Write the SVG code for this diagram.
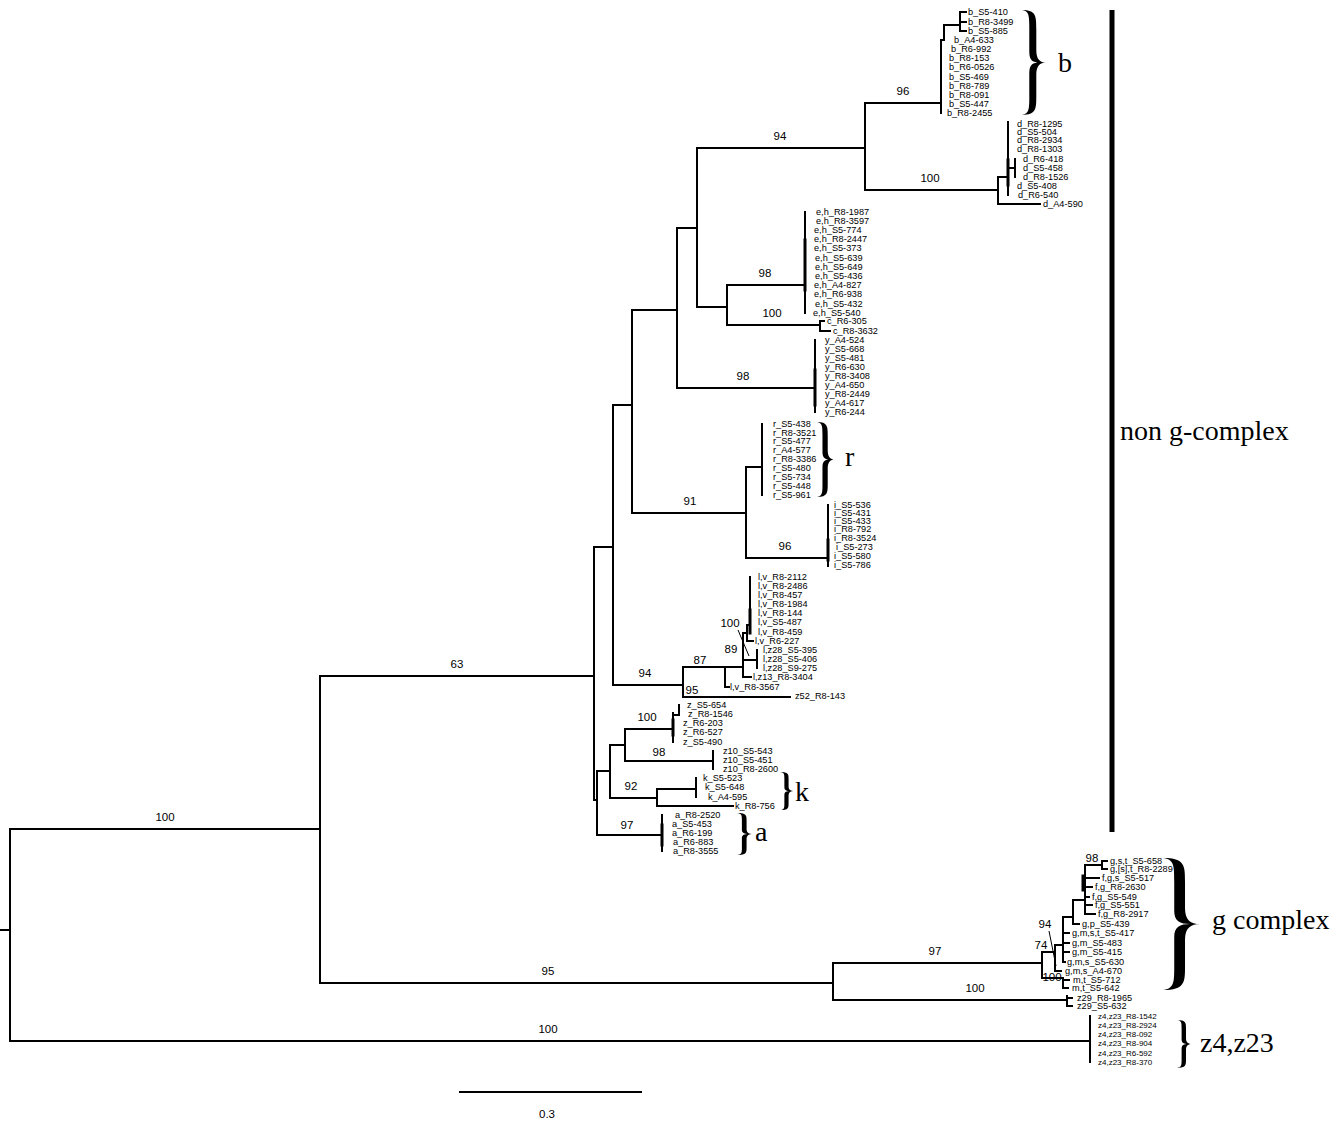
<svg xmlns="http://www.w3.org/2000/svg" width="1340" height="1121" viewBox="0 0 1340 1121">
<style>
.br{fill:none;stroke:#000;stroke-width:2;stroke-linecap:square}
.thin{fill:none;stroke:#000;stroke-width:1}
.lf{font-family:"Liberation Sans",Arial,sans-serif;font-size:9.2px;fill:#000}
.lf8{font-family:"Liberation Sans",Arial,sans-serif;font-size:8px;fill:#000}
.bs{font-family:"Liberation Sans",Arial,sans-serif;font-size:11.5px;fill:#000;text-anchor:middle}
.big{font-family:"Liberation Serif","Times New Roman",serif;font-size:28px;fill:#000}
</style>
<defs>
<path id="brace" d="M0,0 C14.3,0 14.3,6 14.3,18 L14.3,38 C14.3,47 18,50 24,50 C18,50 14.3,53 14.3,62 L14.3,82 C14.3,94 14.3,100 0,100 C7.3,99 7.3,94 7.3,82 L7.3,60 C7.3,52 10.8,50 17.8,50 C10.8,50 7.3,48 7.3,40 L7.3,18 C7.3,6 7.3,1 0,0 Z" fill="#000"/>
</defs>
<rect width="1340" height="1121" fill="#fff"/>

<g id="connectors">
<path class="br" d="M0,930 H10 M10,829 V1041 M10,829 H320 M10,1041 H1090 M320,676 V983 M320,676 H594 M320,983 H833
M833,963 V1000 M833,963 H1042 M833,1000 H1067 M1067,996 V1006 M1067,998 H1072 M1067,1006 H1072
M1042,952 V978 M1042,952 H1055 M1042,978 H1063 M1063,978 V988 M1063,980 H1069 M1063,988 H1068
M1055,945 V971 M1055,971 H1061 M1055,945 H1063 M1063,917 V962 M1063,933 H1069 M1063,943 H1069 M1063,952 H1069 M1063,962 H1065
M1063,917 H1073 M1073,900 V924 M1073,924 H1079 M1073,900 H1085 M1085,865 V914
M1085,878 H1099 M1085,887 H1092 M1085,897 H1089 M1085,905 H1092 M1085,914 H1095
M1085,865 H1102 M1102,861 V869 M1102,861 H1107 M1102,869 H1107
M1090,1016 V1062
M594,547 V800 M594,800 H597 M597,771 V835 M597,771 H610 M610,745 V798 M610,745 H625 M625,729 V761
M625,729 H673 M673,713 V742 M673,715 H679 M679,705 V715
M625,761 H713 M713,751 V769
M610,798 H657 M657,789 V806 M657,789 H696 M696,778 V797 M657,806 H733
M597,835 H662 M662,815 V851
M594,547 H613 M613,405 V685 M613,685 H683 M683,667 V697 M683,667 H743
M725,667 V687 M725,687 H729 M683,697 H790
M743,633 V677 M743,677 H751 M743,660 H757 M757,650 V668 M743,633 H747 M747,625 V641 M747,641 H753 M747,625 H750 M750,577 V633
M613,405 H632 M632,310 V513 M632,513 H746 M746,467 V558 M746,467 H762 M762,424 V495 M746,558 H828 M828,505 V566
M632,310 H677 M677,228 V388 M677,388 H815 M815,340 V412 M677,228 H697 M697,148 V307 M697,307 H727
M727,285 V325 M727,285 H805 M805,212 V313 M727,325 H820 M820,321 V331 M820,321 H824 M820,331 H830
M697,148 H865 M865,103 V190 M865,103 H938 M865,190 H998
M941,40 V113 M938,103 H941 M941,40 H944 M944,25 V40 M944,25 H960 M960,12 V31 M960,12 H966 M960,22 H966 M960,31 H966
M998,177 V204 M998,177 H1008 M1008,122 V195 M1008,168 H1015 M1015,159 V177 M998,204 H1040"/>
<path class="br" style="stroke-width:3" d="M1083,876 V890 M1008,160 V185 M805,240 V290 M815,370 V405 M750,610 V633 M673,720 V735 M662,825 V845 M828,540 V560"/>
<path class="thin" d="M738,630 L749,656 M1049,931 L1056,966"/>
<path d="M1112,10 V832" stroke="#000" stroke-width="5" fill="none"/>
<path d="M459,1092 H642" stroke="#000" stroke-width="2" fill="none"/>
</g>

<g id="support">
<text class="bs" x="165" y="821">100</text>
<text class="bs" x="548" y="1033">100</text>
<text class="bs" x="457" y="668">63</text>
<text class="bs" x="548" y="975">95</text>
<text class="bs" x="935" y="955">97</text>
<text class="bs" x="975" y="992">100</text>
<text class="bs" x="780" y="140">94</text>
<text class="bs" x="903" y="95">96</text>
<text class="bs" x="930" y="182">100</text>
<text class="bs" x="765" y="277">98</text>
<text class="bs" x="772" y="317">100</text>
<text class="bs" x="743" y="380">98</text>
<text class="bs" x="690" y="505">91</text>
<text class="bs" x="785" y="550">96</text>
<text class="bs" x="645" y="677">94</text>
<text class="bs" x="700" y="664">87</text>
<text class="bs" x="692" y="694">95</text>
<text class="bs" x="730" y="627">100</text>
<text class="bs" x="731" y="653">89</text>
<text class="bs" x="647" y="721">100</text>
<text class="bs" x="659" y="756">98</text>
<text class="bs" x="631" y="790">92</text>
<text class="bs" x="627" y="829">97</text>
<text class="bs" x="1092" y="862">98</text>
<text class="bs" x="1045" y="928">94</text>
<text class="bs" x="1041" y="949">74</text>
<text class="bs" x="1052" y="981">100</text>
<text class="bs" x="547" y="1118">0.3</text>
</g>

<g id="clade-b">
<text class="lf" x="968" y="15">b_S5-410</text>
<text class="lf" x="968" y="25">b_R8-3499</text>
<text class="lf" x="968" y="34">b_S5-885</text>
<text class="lf" x="954" y="43">b_A4-633</text>
<text class="lf" x="951" y="52">b_R6-992</text>
<text class="lf" x="949" y="61">b_R8-153</text>
<text class="lf" x="949" y="70">b_R6-0526</text>
<text class="lf" x="949" y="80">b_S5-469</text>
<text class="lf" x="949" y="89">b_R8-789</text>
<text class="lf" x="949" y="98">b_R8-091</text>
<text class="lf" x="949" y="107">b_S5-447</text>
<text class="lf" x="947" y="116">b_R8-2455</text>
<use href="#brace" transform="translate(1022,10) scale(1,1.05)"/>
<text class="big" x="1058" y="72">b</text>
</g>

<g id="clade-d">
<text class="lf" x="1017" y="127">d_R8-1295</text>
<text class="lf" x="1017" y="135">d_S5-504</text>
<text class="lf" x="1017" y="143">d_R8-2934</text>
<text class="lf" x="1017" y="152">d_R8-1303</text>
<text class="lf" x="1023" y="162">d_R6-418</text>
<text class="lf" x="1023" y="171">d_S5-458</text>
<text class="lf" x="1023" y="180">d_R8-1526</text>
<text class="lf" x="1017" y="189">d_S5-408</text>
<text class="lf" x="1018" y="198">d_R6-540</text>
<text class="lf" x="1043" y="207">d_A4-590</text>
</g>

<g id="clade-eh">
<text class="lf" x="816" y="215">e,h_R8-1987</text>
<text class="lf" x="816" y="224">e,h_R8-3597</text>
<text class="lf" x="814" y="233">e,h_S5-774</text>
<text class="lf" x="814" y="242">e,h_R8-2447</text>
<text class="lf" x="814" y="251">e,h_S5-373</text>
<text class="lf" x="815" y="261">e,h_S5-639</text>
<text class="lf" x="815" y="270">e,h_S5-649</text>
<text class="lf" x="815" y="279">e,h_S5-436</text>
<text class="lf" x="814" y="288">e,h_A4-827</text>
<text class="lf" x="814" y="297">e,h_R6-938</text>
<text class="lf" x="815" y="307">e,h_S5-432</text>
<text class="lf" x="813" y="316">e,h_S5-540</text>
</g>

<g id="clade-c">
<text class="lf" x="827" y="324">c_R6-305</text>
<text class="lf" x="833" y="334">c_R8-3632</text>
</g>

<g id="clade-y">
<text class="lf" x="825" y="343">y_A4-524</text>
<text class="lf" x="825" y="352">y_S5-668</text>
<text class="lf" x="825" y="361">y_S5-481</text>
<text class="lf" x="825" y="370">y_R6-630</text>
<text class="lf" x="825" y="379">y_R8-3408</text>
<text class="lf" x="825" y="388">y_A4-650</text>
<text class="lf" x="825" y="397">y_R8-2449</text>
<text class="lf" x="825" y="406">y_A4-617</text>
<text class="lf" x="825" y="415">y_R6-244</text>
</g>

<g id="clade-r">
<text class="lf" x="773" y="427">r_S5-438</text>
<text class="lf" x="773" y="436">r_R8-3521</text>
<text class="lf" x="773" y="444">r_S5-477</text>
<text class="lf" x="773" y="453">r_A4-577</text>
<text class="lf" x="773" y="462">r_R8-3386</text>
<text class="lf" x="773" y="471">r_S5-480</text>
<text class="lf" x="773" y="480">r_S5-734</text>
<text class="lf" x="773" y="489">r_S5-448</text>
<text class="lf" x="773" y="498">r_S5-961</text>
<use href="#brace" transform="translate(817,422) scale(0.75,0.75)"/>
<text class="big" x="845" y="466">r</text>
</g>

<g id="clade-i">
<text class="lf" x="834" y="508">i_S5-536</text>
<text class="lf" x="834" y="516">i_S5-431</text>
<text class="lf" x="834" y="524">i_S5-433</text>
<text class="lf" x="834" y="532">i_R8-792</text>
<text class="lf" x="834" y="541">i_R8-3524</text>
<text class="lf" x="836" y="550">i_S5-273</text>
<text class="lf" x="834" y="559">i_S5-580</text>
<text class="lf" x="834" y="568">i_S5-786</text>
</g>

<g id="clade-lv">
<text class="lf" x="758" y="580">l,v_R8-2112</text>
<text class="lf" x="758" y="589">l,v_R8-2486</text>
<text class="lf" x="758" y="598">l,v_R8-457</text>
<text class="lf" x="758" y="607">l,v_R8-1984</text>
<text class="lf" x="758" y="616">l,v_R8-144</text>
<text class="lf" x="758" y="625">l,v_S5-487</text>
<text class="lf" x="758" y="635">l,v_R8-459</text>
<text class="lf" x="755" y="644">l,v_R6-227</text>
<text class="lf" x="763" y="653">l,z28_S5-395</text>
<text class="lf" x="763" y="662">l,z28_S5-406</text>
<text class="lf" x="763" y="671">l,z28_S9-275</text>
<text class="lf" x="753" y="680">l,z13_R8-3404</text>
<text class="lf" x="730" y="690">l,v_R8-3567</text>
<text class="lf" x="795" y="699">z52_R8-143</text>
</g>

<g id="clade-z">
<text class="lf" x="687" y="708">z_S5-654</text>
<text class="lf" x="688" y="717">z_R8-1546</text>
<text class="lf" x="683" y="726">z_R6-203</text>
<text class="lf" x="683" y="735">z_R6-527</text>
<text class="lf" x="683" y="745">z_S5-490</text>
</g>

<g id="clade-z10">
<text class="lf" x="723" y="754">z10_S5-543</text>
<text class="lf" x="723" y="763">z10_S5-451</text>
<text class="lf" x="723" y="772">z10_R8-2600</text>
</g>

<g id="clade-k">
<text class="lf" x="703" y="781">k_S5-523</text>
<text class="lf" x="705" y="790">k_S5-648</text>
<text class="lf" x="708" y="800">k_A4-595</text>
<text class="lf" x="735" y="809">k_R8-756</text>
<use href="#brace" transform="translate(780,772) scale(0.6,0.38)"/>
<text class="big" x="795" y="801">k</text>
</g>

<g id="clade-a">
<text class="lf" x="675" y="818">a_R8-2520</text>
<text class="lf" x="672" y="827">a_S5-453</text>
<text class="lf" x="672" y="836">a_R6-199</text>
<text class="lf" x="673" y="845">a_R6-883</text>
<text class="lf" x="673" y="854">a_R8-3555</text>
<use href="#brace" transform="translate(737,813) scale(0.67,0.42)"/>
<text class="big" x="755" y="841">a</text>
</g>

<g id="non-g-complex">
<text class="big" x="1120" y="440">non g-complex</text>
</g>

<g id="clade-g-complex">
<text class="lf" x="1110" y="864">g,s,t_S5-658</text>
<text class="lf" x="1110" y="872">g,[s],t_R8-2289</text>
<text class="lf" x="1102" y="881">f,g,s_S5-517</text>
<text class="lf" x="1095" y="890">f,g_R8-2630</text>
<text class="lf" x="1092" y="900">f,g_S5-549</text>
<text class="lf" x="1095" y="908">f,g_S5-551</text>
<text class="lf" x="1098" y="917">f,g_R8-2917</text>
<text class="lf" x="1082" y="927">g,p_S5-439</text>
<text class="lf" x="1072" y="936">g,m,s,t_S5-417</text>
<text class="lf" x="1072" y="946">g,m_S5-483</text>
<text class="lf" x="1072" y="955">g,m_S5-415</text>
<text class="lf" x="1067" y="965">g,m,s_S5-630</text>
<text class="lf" x="1065" y="974">g,m,s_A4-670</text>
<text class="lf" x="1073" y="983">m,t_S5-712</text>
<text class="lf" x="1072" y="991">m,t_S5-642</text>
<use href="#brace" transform="translate(1163,858) scale(1.54,1.32)"/>
<text class="big" x="1212" y="929">g complex</text>
</g>

<g id="clade-z29">
<text class="lf" x="1077" y="1001">z29_R8-1965</text>
<text class="lf" x="1077" y="1009">z29_S5-632</text>
</g>

<g id="clade-z4z23">
<text class="lf8" x="1098" y="1019">z4,z23_R8-1542</text>
<text class="lf8" x="1098" y="1028">z4,z23_R8-2924</text>
<text class="lf8" x="1098" y="1037">z4,z23_R8-092</text>
<text class="lf8" x="1098" y="1046">z4,z23_R8-904</text>
<text class="lf8" x="1098" y="1056">z4,z23_R6-592</text>
<text class="lf8" x="1098" y="1065">z4,z23_R8-370</text>
<use href="#brace" transform="translate(1177,1020) scale(0.63,0.48)"/>
<text class="big" x="1200" y="1052">z4,z23</text>
</g>
</svg>
